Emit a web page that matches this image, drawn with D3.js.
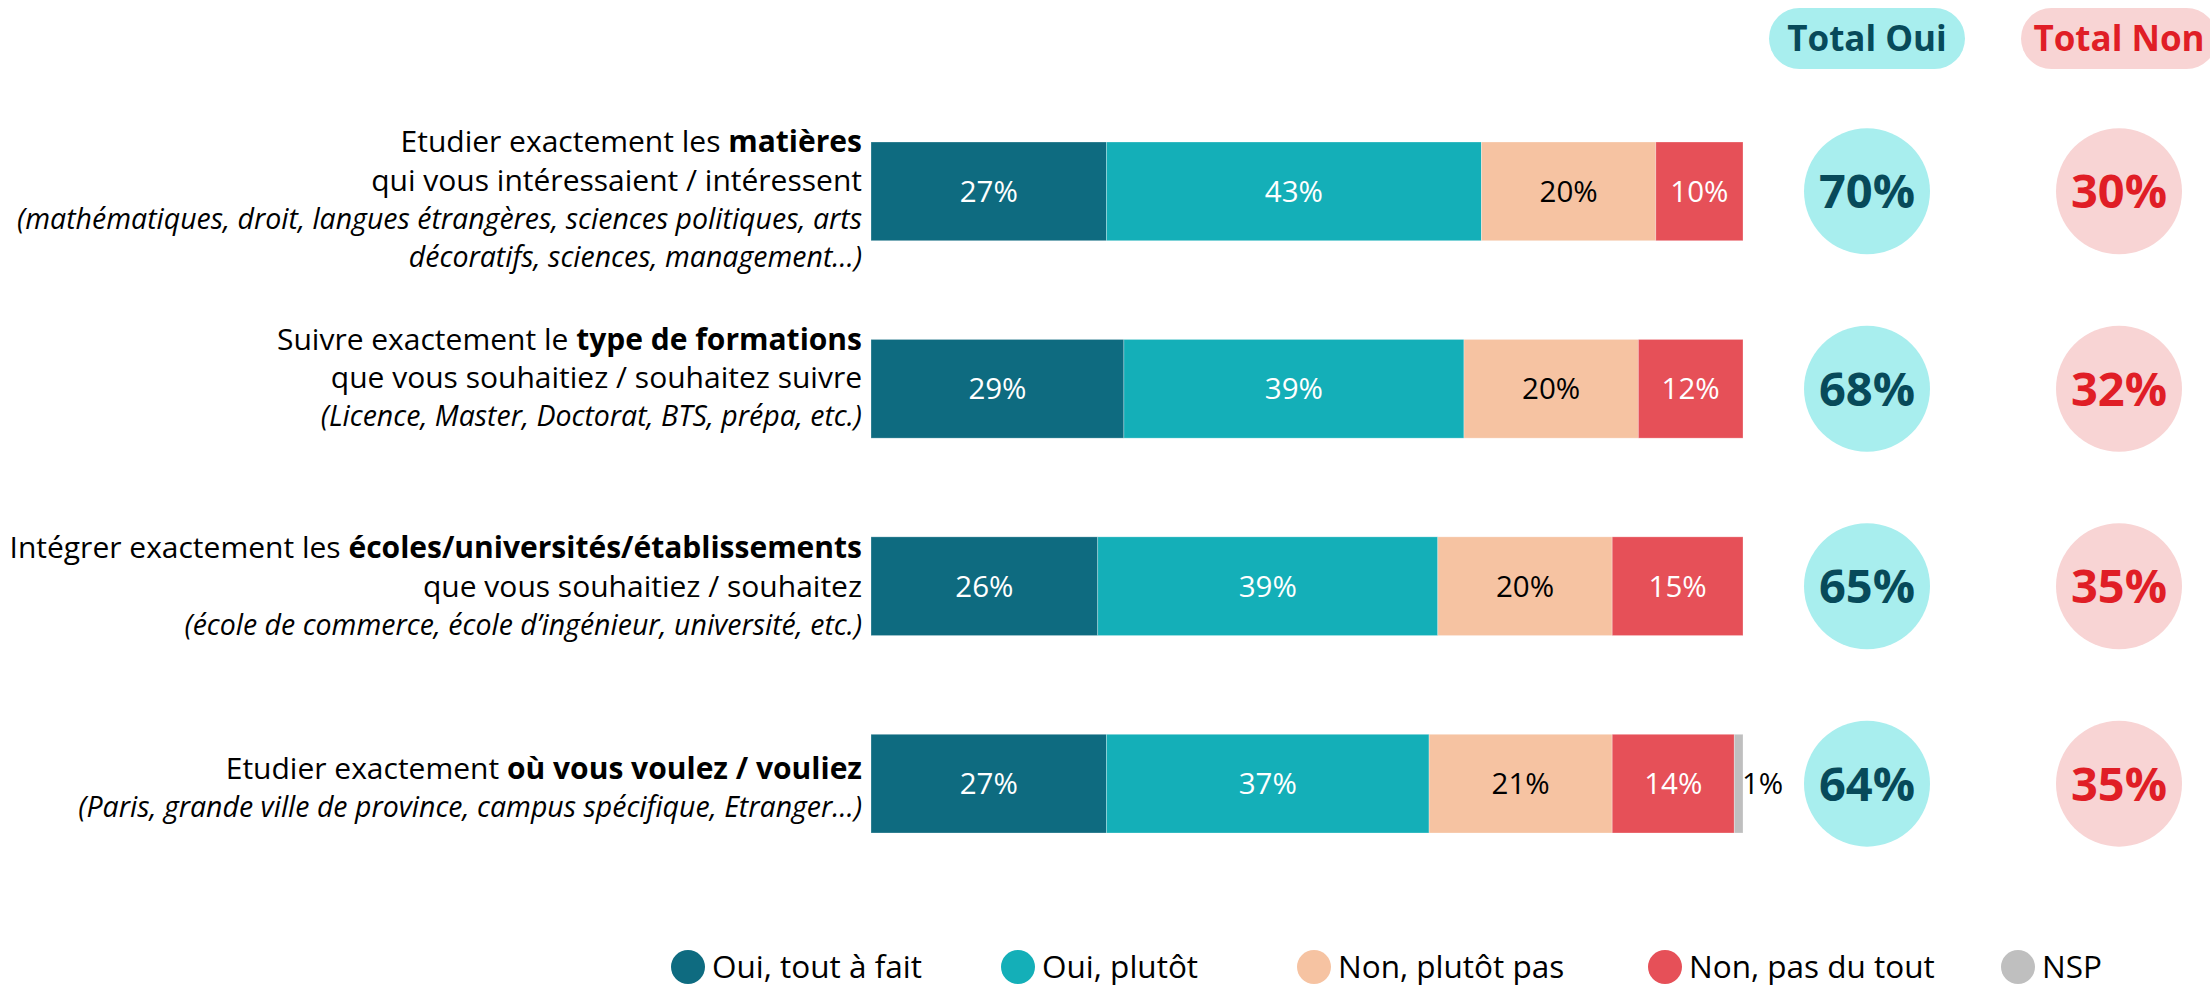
<!DOCTYPE html>
<html>
<head>
<meta charset="utf-8">
<script src="https://cdn.jsdelivr.net/npm/d3@7"></script>
<style>
  body { margin: 0; background: #fff; }
  svg text { font-family: "Open Sans", "Noto Sans", sans-serif; }
</style>
</head>
<body>
<div id="chart"></div>
<script>
// Questions (label lines: normal part, bold part, then plain and italic lines)
const questions = [
  { lead: 'Etudier exactement les ', bold: 'matières',
    plain: ['qui vous intéressaient / intéressent'],
    italic: ['(mathématiques, droit, langues étrangères, sciences politiques, arts', 'décoratifs, sciences, management…)'] },
  { lead: 'Suivre exactement le ', bold: 'type de formations',
    plain: ['que vous souhaitiez / souhaitez suivre'],
    italic: ['(Licence, Master, Doctorat, BTS, prépa, etc.)'] },
  { lead: 'Intégrer exactement les ', bold: 'écoles/universités/établissements',
    plain: ['que vous souhaitiez / souhaitez'],
    italic: ['(école de commerce, école d’ingénieur, université, etc.)'] },
  { lead: 'Etudier exactement ', bold: 'où vous voulez / vouliez',
    plain: [],
    italic: ['(Paris, grande ville de province, campus spécifique, Etranger…)'] },
];

// Series
const seriesNames = ['Oui, tout à fait', 'Oui, plutôt', 'Non, plutôt pas', 'Non, pas du tout', 'NSP'];
const toutAFait = [27, 29, 26, 27];
const plutot = [43, 39, 39, 37];
const plutotPas = [20, 20, 20, 21];
const pasDuTout = [10, 12, 15, 14];
const nsp = [0, 0, 0, 1];

// Totals
const totalOui = [70, 68, 65, 64];
const totalNon = [30, 32, 35, 35];

// Style
const colors = ['#0e6b80', '#14afb8', '#f6c3a2', '#e65058', '#bfbfbf'];
const labelColors = ['#fff', '#fff', '#000', '#fff', '#000'];
const ouiDark = '#074a5a';
const nonRed = '#e01e26';
const ouiLight = '#a8eeee';
const nonLight = '#f8d4d4';

const W = 2210;
const H = 988;

const svg = d3.select('#chart')
  .append('svg')
  .attr('width', W)
  .attr('height', H);

// Scales
const x = d3.scaleLinear()
  .domain([0, 100])
  .range([871, 1743]);

const y = d3.scaleBand()
  .domain(d3.range(questions.length))
  .range([142, 833])
  .paddingInner(0.5)
  .paddingOuter(0);

// Build table and stack
const table = questions.map((q, i) => ({
  i,
  s0: toutAFait[i],
  s1: plutot[i],
  s2: plutotPas[i],
  s3: pasDuTout[i],
  s4: nsp[i],
}));
const keys = ['s0', 's1', 's2', 's3', 's4'];
const stacked = d3.stack().keys(keys)(table);

// Bars
const layers = svg.append('g')
  .selectAll('g')
  .data(stacked)
  .join('g')
  .attr('fill', (d, k) => colors[k]);

layers.selectAll('rect')
  .data((d) => d)
  .join('rect')
  .attr('x', (d) => x(d[0]))
  .attr('y', (d) => y(d.data.i))
  .attr('width', (d) => x(d[1]) - x(d[0]))
  .attr('height', y.bandwidth())
  .attr('stroke', '#fff')
  .attr('stroke-opacity', 0.35)
  .attr('stroke-width', 0.8);

// Value labels (tiny segments get their label just outside the bar)
stacked.forEach((layer, k) => {
  svg.append('g')
    .selectAll('text')
    .data(layer.filter((d) => d[1] - d[0] > 0))
    .join('text')
    .attr('x', (d) => (d[1] - d[0] < 3 ? x(d[1]) - 1 : x((d[0] + d[1]) / 2)))
    .attr('y', (d) => y(d.data.i) + y.bandwidth() / 2)
    .attr('dy', '0.35em')
    .attr('text-anchor', (d) => (d[1] - d[0] < 3 ? 'start' : 'middle'))
    .attr('fill', (d) => (d[1] - d[0] < 3 ? '#000' : labelColors[k]))
    .attr('font-size', 29.5)
    .text((d) => `${d[1] - d[0]}%`);
});

// Question labels
const lineH = 38.5;
const labelX = x(0) - 9;
const labelShift = [8, -11, 0, 4];
questions.forEach((q, i) => {
  const lines = [{ lead: q.lead, bold: q.bold }]
    .concat(q.plain.map((t) => ({ text: t })))
    .concat(q.italic.map((t) => ({ text: t, italic: true })));
  const cy = y(i) + y.bandwidth() / 2 + labelShift[i];
  const top = cy - ((lines.length - 1) * lineH) / 2;
  lines.forEach((ln, j) => {
    const t = svg.append('text')
      .attr('x', labelX)
      .attr('y', top + j * lineH)
      .attr('dy', '0.35em')
      .attr('text-anchor', 'end')
      .attr('fill', '#000');
    if (ln.bold) {
      t.attr('font-size', 30);
      t.append('tspan').text(ln.lead);
      t.append('tspan').attr('font-weight', 'bold').text(ln.bold);
    } else if (ln.italic) {
      t.attr('font-size', 28.5).attr('font-style', 'italic').text(ln.text);
    } else {
      t.attr('font-size', 30).text(ln.text);
    }
  });
});

// Totals columns
const ouiX = 1867;
const nonX = 2119;
const r = 63;

function totalColumn(cx, values, fill, color, title) {
  // header pill
  svg.append('rect')
    .attr('x', cx - 98)
    .attr('y', 8)
    .attr('width', 196)
    .attr('height', 61)
    .attr('rx', 30.5)
    .attr('fill', fill);
  svg.append('text')
    .attr('x', cx)
    .attr('y', 38.5)
    .attr('dy', '0.35em')
    .attr('text-anchor', 'middle')
    .attr('font-size', 35)
    .attr('font-weight', 'bold')
    .attr('fill', color)
    .text(title);

  const g = svg.append('g');
  g.selectAll('circle')
    .data(values)
    .join('circle')
    .attr('cx', cx)
    .attr('cy', (d, i) => y(i) + y.bandwidth() / 2)
    .attr('r', r)
    .attr('fill', fill);
  g.selectAll('text')
    .data(values)
    .join('text')
    .attr('x', cx)
    .attr('y', (d, i) => y(i) + y.bandwidth() / 2)
    .attr('dy', '0.36em')
    .attr('text-anchor', 'middle')
    .attr('font-size', 47)
    .attr('font-weight', 'bold')
    .attr('fill', color)
    .text((d) => `${d}%`);
}
totalColumn(ouiX, totalOui, ouiLight, ouiDark, 'Total Oui');
totalColumn(nonX, totalNon, nonLight, nonRed, 'Total Non');

// Legend
const legendX = [688, 1018, 1314, 1665, 2018];
const legendY = 967;
const legend = svg.append('g')
  .selectAll('g')
  .data(seriesNames)
  .join('g')
  .attr('transform', (d, k) => `translate(${legendX[k]},${legendY})`);
legend.append('circle')
  .attr('r', 17)
  .attr('fill', (d, k) => colors[k]);
legend.append('text')
  .attr('x', 24)
  .attr('dy', '0.35em')
  .attr('font-size', 31.5)
  .attr('fill', '#000')
  .text((d) => d);
</script>
</body>
</html>
